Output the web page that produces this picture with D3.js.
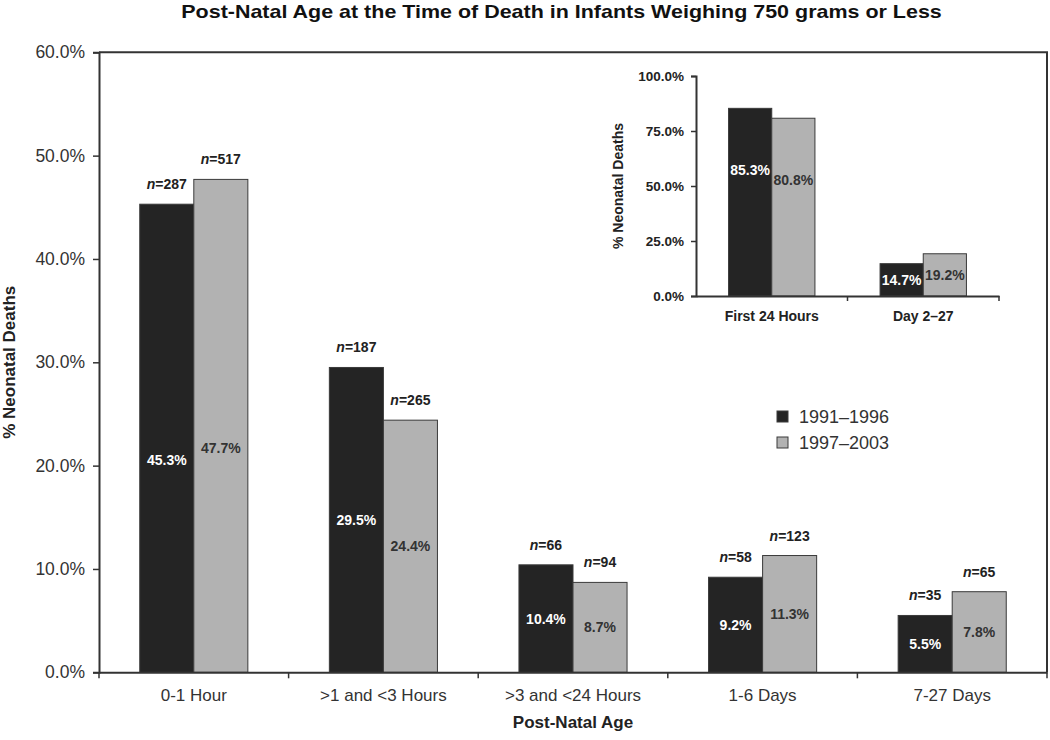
<!DOCTYPE html>
<html>
<head>
<meta charset="utf-8">
<script src="https://cdn.jsdelivr.net/npm/d3@7"></script>
<style>
  html, body { margin: 0; padding: 0; background: #fff; }
  svg { display: block; font-family: "Liberation Sans", Arial, sans-serif; }
</style>
</head>
<body>
<svg id="chart" width="1050" height="740"></svg>
<script>
// ---- data ----
const categories = ["0-1 Hour", ">1 and <3 Hours", ">3 and <24 Hours", "1-6 Days", "7-27 Days"];
const seriesNames = ["1991\u20131996", "1997\u20132003"];
const values1991 = [45.3, 29.5, 10.4, 9.2, 5.5];
const values1997 = [47.7, 24.4, 8.7, 11.3, 7.8];
const counts1991 = [287, 187, 66, 58, 35];
const counts1997 = [517, 265, 94, 123, 65];
const yTicks = [0, 10, 20, 30, 40, 50, 60];

const insetCategories = ["First 24 Hours", "Day 2\u201327"];
const inset1991 = [85.3, 14.7];
const inset1997 = [80.8, 19.2];
const insetTicks = [0, 25, 50, 75, 100];

const title = "Post-Natal Age at the Time of Death in Infants Weighing 750 grams or Less";
const xTitle = "Post-Natal Age";
const yTitle = "% Neonatal Deaths";

// ---- styles ----
const colors = ["#242424", "#b2b2b2"];
const labelColors = ["#ffffff", "#333333"];
const axisColor = "#333";

const svg = d3.select("#chart");

// ---- main chart ----
const M = { left: 99, right: 1047, top: 52.3, bottom: 672.3 };
const x = d3.scaleBand().domain(categories).range([M.left, M.right]).paddingInner(0).paddingOuter(0);
const xs = d3.scaleBand().domain(seriesNames).range([0, x.bandwidth()]).paddingInner(0).paddingOuter(0.754);
const y = d3.scaleLinear().domain([0, 60]).range([M.bottom, M.top]);

const rows = categories.map((c, i) => ({
  cat: c,
  vals: [
    { s: 0, v: values1991[i], n: counts1991[i] },
    { s: 1, v: values1997[i], n: counts1997[i] }
  ]
}));

const g = svg.append("g");
const groups = g.selectAll("g.grp").data(rows).join("g")
  .attr("transform", d => `translate(${x(d.cat)},0)`);

groups.selectAll("rect").data(d => d.vals).join("rect")
  .attr("x", d => xs(seriesNames[d.s]))
  .attr("y", d => y(d.v))
  .attr("width", xs.bandwidth())
  .attr("height", d => y(0) - y(d.v))
  .attr("fill", d => colors[d.s])
  .attr("stroke", "#3a3a3a")
  .attr("stroke-width", 1);

// value labels
groups.selectAll("text.val").data(d => d.vals).join("text")
  .attr("class", "val")
  .attr("x", d => xs(seriesNames[d.s]) + xs.bandwidth() / 2)
  .attr("y", d => (y(d.v) + y(0)) / 2 + 5 + (d.v > 40 ? 22 : 0))
  .attr("text-anchor", "middle")
  .attr("font-size", 14)
  .attr("font-weight", "bold")
  .attr("fill", d => labelColors[d.s])
  .text(d => d.v.toFixed(1) + "%");

// n labels
const nl = groups.selectAll("text.n").data(d => d.vals).join("text")
  .attr("class", "n")
  .attr("x", d => xs(seriesNames[d.s]) + xs.bandwidth() / 2)
  .attr("y", d => y(d.v) - 15)
  .attr("text-anchor", "middle")
  .attr("font-size", 14)
  .attr("font-weight", "bold")
  .attr("fill", "#222");
nl.append("tspan").attr("font-style", "italic").text("n");
nl.append("tspan").text(d => "=" + d.n);

// axes
const yAxis = d3.axisLeft(y).tickValues(yTicks).tickSize(6).tickFormat(d => d.toFixed(1) + "%");
const ya = g.append("g").attr("transform", `translate(${M.left},0)`).call(yAxis);
ya.select(".domain").attr("stroke", axisColor).attr("stroke-width", 2);
ya.selectAll(".tick line").attr("stroke", axisColor).attr("stroke-width", 1.5);
ya.selectAll(".tick text").attr("font-size", 17.5).attr("fill", "#333")
  .attr("font-family", "Liberation Sans, Arial, sans-serif").attr("x", -14);

const xAxis = d3.axisBottom(x).tickSize(0).tickSizeOuter(0);
const xa = g.append("g").attr("transform", `translate(0,${M.bottom})`).call(xAxis);
xa.select(".domain").attr("stroke", axisColor).attr("stroke-width", 2);
xa.selectAll(".tick text").attr("font-size", 17).attr("fill", "#333")
  .attr("font-family", "Liberation Sans, Arial, sans-serif").attr("dy", "1.5em");
// boundary ticks
const bounds = categories.map(c => x(c)).concat([M.right]);
g.append("g").selectAll("line").data(bounds).join("line")
  .attr("x1", d => d).attr("x2", d => d)
  .attr("y1", M.bottom).attr("y2", M.bottom + 6)
  .attr("stroke", axisColor).attr("stroke-width", 1.5);

// top and right border
g.append("path")
  .attr("d", `M${M.left},${M.top}H${M.right}V${M.bottom}`)
  .attr("fill", "none").attr("stroke", axisColor).attr("stroke-width", 2);

// titles
svg.append("text").attr("transform", "translate(561.5,18) scale(1.13,1)").attr("text-anchor", "middle")
  .attr("font-size", 19).attr("font-weight", "bold").attr("fill", "#111").text(title);
svg.append("text").attr("x", 573).attr("y", 728).attr("text-anchor", "middle")
  .attr("font-size", 17).attr("font-weight", "bold").attr("fill", "#222").text(xTitle);
svg.append("text").attr("transform", `translate(15,${(M.top + M.bottom) / 2}) rotate(-90)`)
  .attr("text-anchor", "middle")
  .attr("font-size", 17).attr("font-weight", "bold").attr("fill", "#222").text(yTitle);

// legend
const lg = svg.append("g").attr("transform", "translate(777,411)");
const li = lg.selectAll("g").data(seriesNames).join("g")
  .attr("transform", (d, i) => `translate(0,${i * 26})`);
li.append("rect").attr("width", 11).attr("height", 11)
  .attr("fill", (d, i) => colors[i]).attr("stroke", "#3a3a3a").attr("stroke-width", 1);
li.append("text").attr("x", 22).attr("y", 11.5).attr("font-size", 18).attr("fill", "#333").text(d => d);

// ---- inset chart ----
const I = { left: 696, right: 999, top: 76, bottom: 296 };
const ix = d3.scaleBand().domain(insetCategories).range([I.left, I.right]).paddingInner(0).paddingOuter(0);
const ixs = d3.scaleBand().domain(seriesNames).range([0, ix.bandwidth()]).paddingInner(0).paddingOuter(0.754);
const iy = d3.scaleLinear().domain([0, 100]).range([I.bottom, I.top]);

const irows = insetCategories.map((c, i) => ({
  cat: c,
  vals: [{ s: 0, v: inset1991[i] }, { s: 1, v: inset1997[i] }]
}));
const ig = svg.append("g");
const igroups = ig.selectAll("g.grp").data(irows).join("g")
  .attr("transform", d => `translate(${ix(d.cat)},0)`);
igroups.selectAll("rect").data(d => d.vals).join("rect")
  .attr("x", d => ixs(seriesNames[d.s]))
  .attr("y", d => iy(d.v))
  .attr("width", ixs.bandwidth())
  .attr("height", d => iy(0) - iy(d.v))
  .attr("fill", d => colors[d.s])
  .attr("stroke", "#3a3a3a").attr("stroke-width", 1);
igroups.selectAll("text.val").data(d => d.vals).join("text")
  .attr("x", d => ixs(seriesNames[d.s]) + ixs.bandwidth() / 2)
  .attr("y", d => Math.min((iy(d.v) + iy(0)) / 2, iy(d.v) + 62) + 5)
  .attr("text-anchor", "middle")
  .attr("font-size", 14).attr("font-weight", "bold")
  .attr("fill", d => labelColors[d.s])
  .text(d => d.v.toFixed(1) + "%");

const iyAxis = d3.axisLeft(iy).tickValues(insetTicks).tickSize(5).tickFormat(d => d.toFixed(1) + "%");
const iya = ig.append("g").attr("transform", `translate(${I.left},0)`).call(iyAxis);
iya.select(".domain").attr("stroke", axisColor).attr("stroke-width", 2);
iya.selectAll(".tick line").attr("stroke", axisColor).attr("stroke-width", 1.5);
iya.selectAll(".tick text").attr("font-size", 13.5).attr("font-weight", "bold").attr("fill", "#222")
  .attr("font-family", "Liberation Sans, Arial, sans-serif").attr("x", -12);

const ixAxis = d3.axisBottom(ix).tickSize(0).tickSizeOuter(0);
const ixa = ig.append("g").attr("transform", `translate(0,${I.bottom})`).call(ixAxis);
ixa.select(".domain").attr("stroke", axisColor).attr("stroke-width", 2);
ixa.selectAll(".tick text").attr("font-size", 14).attr("font-weight", "bold").attr("fill", "#222")
  .attr("font-family", "Liberation Sans, Arial, sans-serif").attr("dy", "1.55em");
const ibounds = insetCategories.map(c => ix(c)).slice(1).concat([I.right]);
ig.append("g").selectAll("line").data(ibounds).join("line")
  .attr("x1", d => d).attr("x2", d => d)
  .attr("y1", I.bottom).attr("y2", I.bottom + 5)
  .attr("stroke", axisColor).attr("stroke-width", 1.5);
svg.append("text").attr("transform", `translate(623,${(I.top + I.bottom) / 2}) rotate(-90)`)
  .attr("text-anchor", "middle")
  .attr("font-size", 14).attr("font-weight", "bold").attr("fill", "#222").text(yTitle);
</script>
</body>
</html>
